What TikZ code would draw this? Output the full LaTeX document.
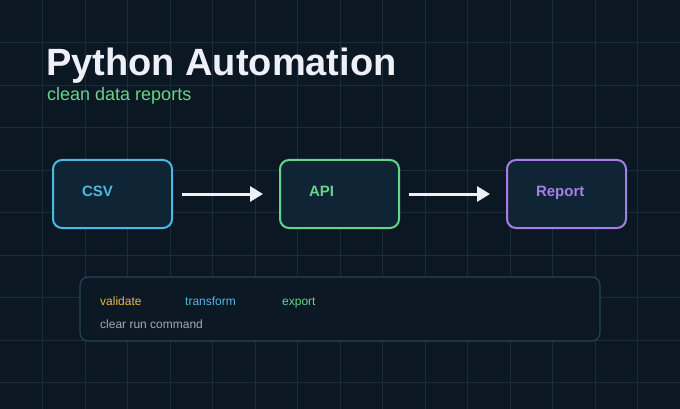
\documentclass[tikz,border=0pt]{standalone}
\usepackage{fontspec}
\setmainfont{Liberation Sans}
\usetikzlibrary{arrows.meta,positioning}
\definecolor{nightbg}{HTML}{0B1722}
\definecolor{gridblue}{HTML}{1A2D3B}
\definecolor{boxfill}{HTML}{0F2535}
\definecolor{panelfill}{HTML}{0C1824}
\definecolor{paneledge}{HTML}{25445A}
\definecolor{titlewhite}{HTML}{EEF0F8}
\definecolor{mintgreen}{HTML}{68D48A}
\definecolor{skyblue}{HTML}{4DB8E2}
\definecolor{lavender}{HTML}{A77EE8}
\definecolor{mustard}{HTML}{E6B94A}
\definecolor{fog}{HTML}{A3AAB3}
\tikzset{
  gridline/.style={
    draw=gridblue,
    line width=0.9pt
  },
  etapa/.style={
    rounded corners=9pt,
    line width=2pt,
    fill=boxfill,
    minimum width=119pt,
    minimum height=68pt,
    text width=61pt,
    text height=9pt,
    text depth=4.2pt,
    inner xsep=29pt,
    align=left,
    font=\fontsize{15}{18}\selectfont\bfseries
  },
  panel/.style={
    rounded corners=8pt,
    line width=1.2pt,
    draw=paneledge,
    fill=panelfill,
    minimum width=520pt,
    minimum height=64pt
  },
  nota/.style={
    anchor=base west,
    inner sep=0pt,
    font=\fontsize{12}{14}\selectfont
  },
  flecha/.style={
    -{Triangle[length=13pt,width=15pt]},
    line width=3pt,
    titlewhite,
    shorten <=9pt,
    shorten >=16pt
  }
}
\begin{document}
\begin{tikzpicture}[x=1pt,y=-1pt,node distance=106pt]
\fill[nightbg] (0,0) rectangle (680,409);
\useasboundingbox (0,0) rectangle (680,409);
\foreach \i in {1,...,15} \draw[gridline] (42.5*\i,0) -- (42.5*\i,409);
\foreach \j in {1,...,9} \draw[gridline] (0,42.5*\j) -- (680,42.5*\j);
% heading
\node[anchor=base west, inner sep=0pt, titlewhite, font=\fontsize{38}{40}\selectfont\bfseries] (title) at (46,76) {Python Automation};
\node[anchor=base west, inner sep=0pt, mintgreen, font=\fontsize{18}{20}\selectfont] (sub) at (47,101) {clean data reports};
% pipeline
\node[etapa, draw=skyblue, text=skyblue] (csv) at (112.5,194) {CSV};
\node[etapa, draw=mintgreen, text=mintgreen, right=of csv] (api) {API};
\node[etapa, draw=lavender, text=lavender, right=of api] (report) {Report};
\draw[flecha] (csv) -- (api);
\draw[flecha] (api) -- (report);
% footer panel
\node[panel] (box) at (340,309) {};
\node[nota, mustard] (val) at (100,305) {validate};
\node[nota, skyblue] (tra) at (185,305) {transform};
\node[nota, mintgreen] (exp) at (282,305) {export};
\node[nota, fog] (run) at (100,328) {clear run command};
\end{tikzpicture}
\end{document}
